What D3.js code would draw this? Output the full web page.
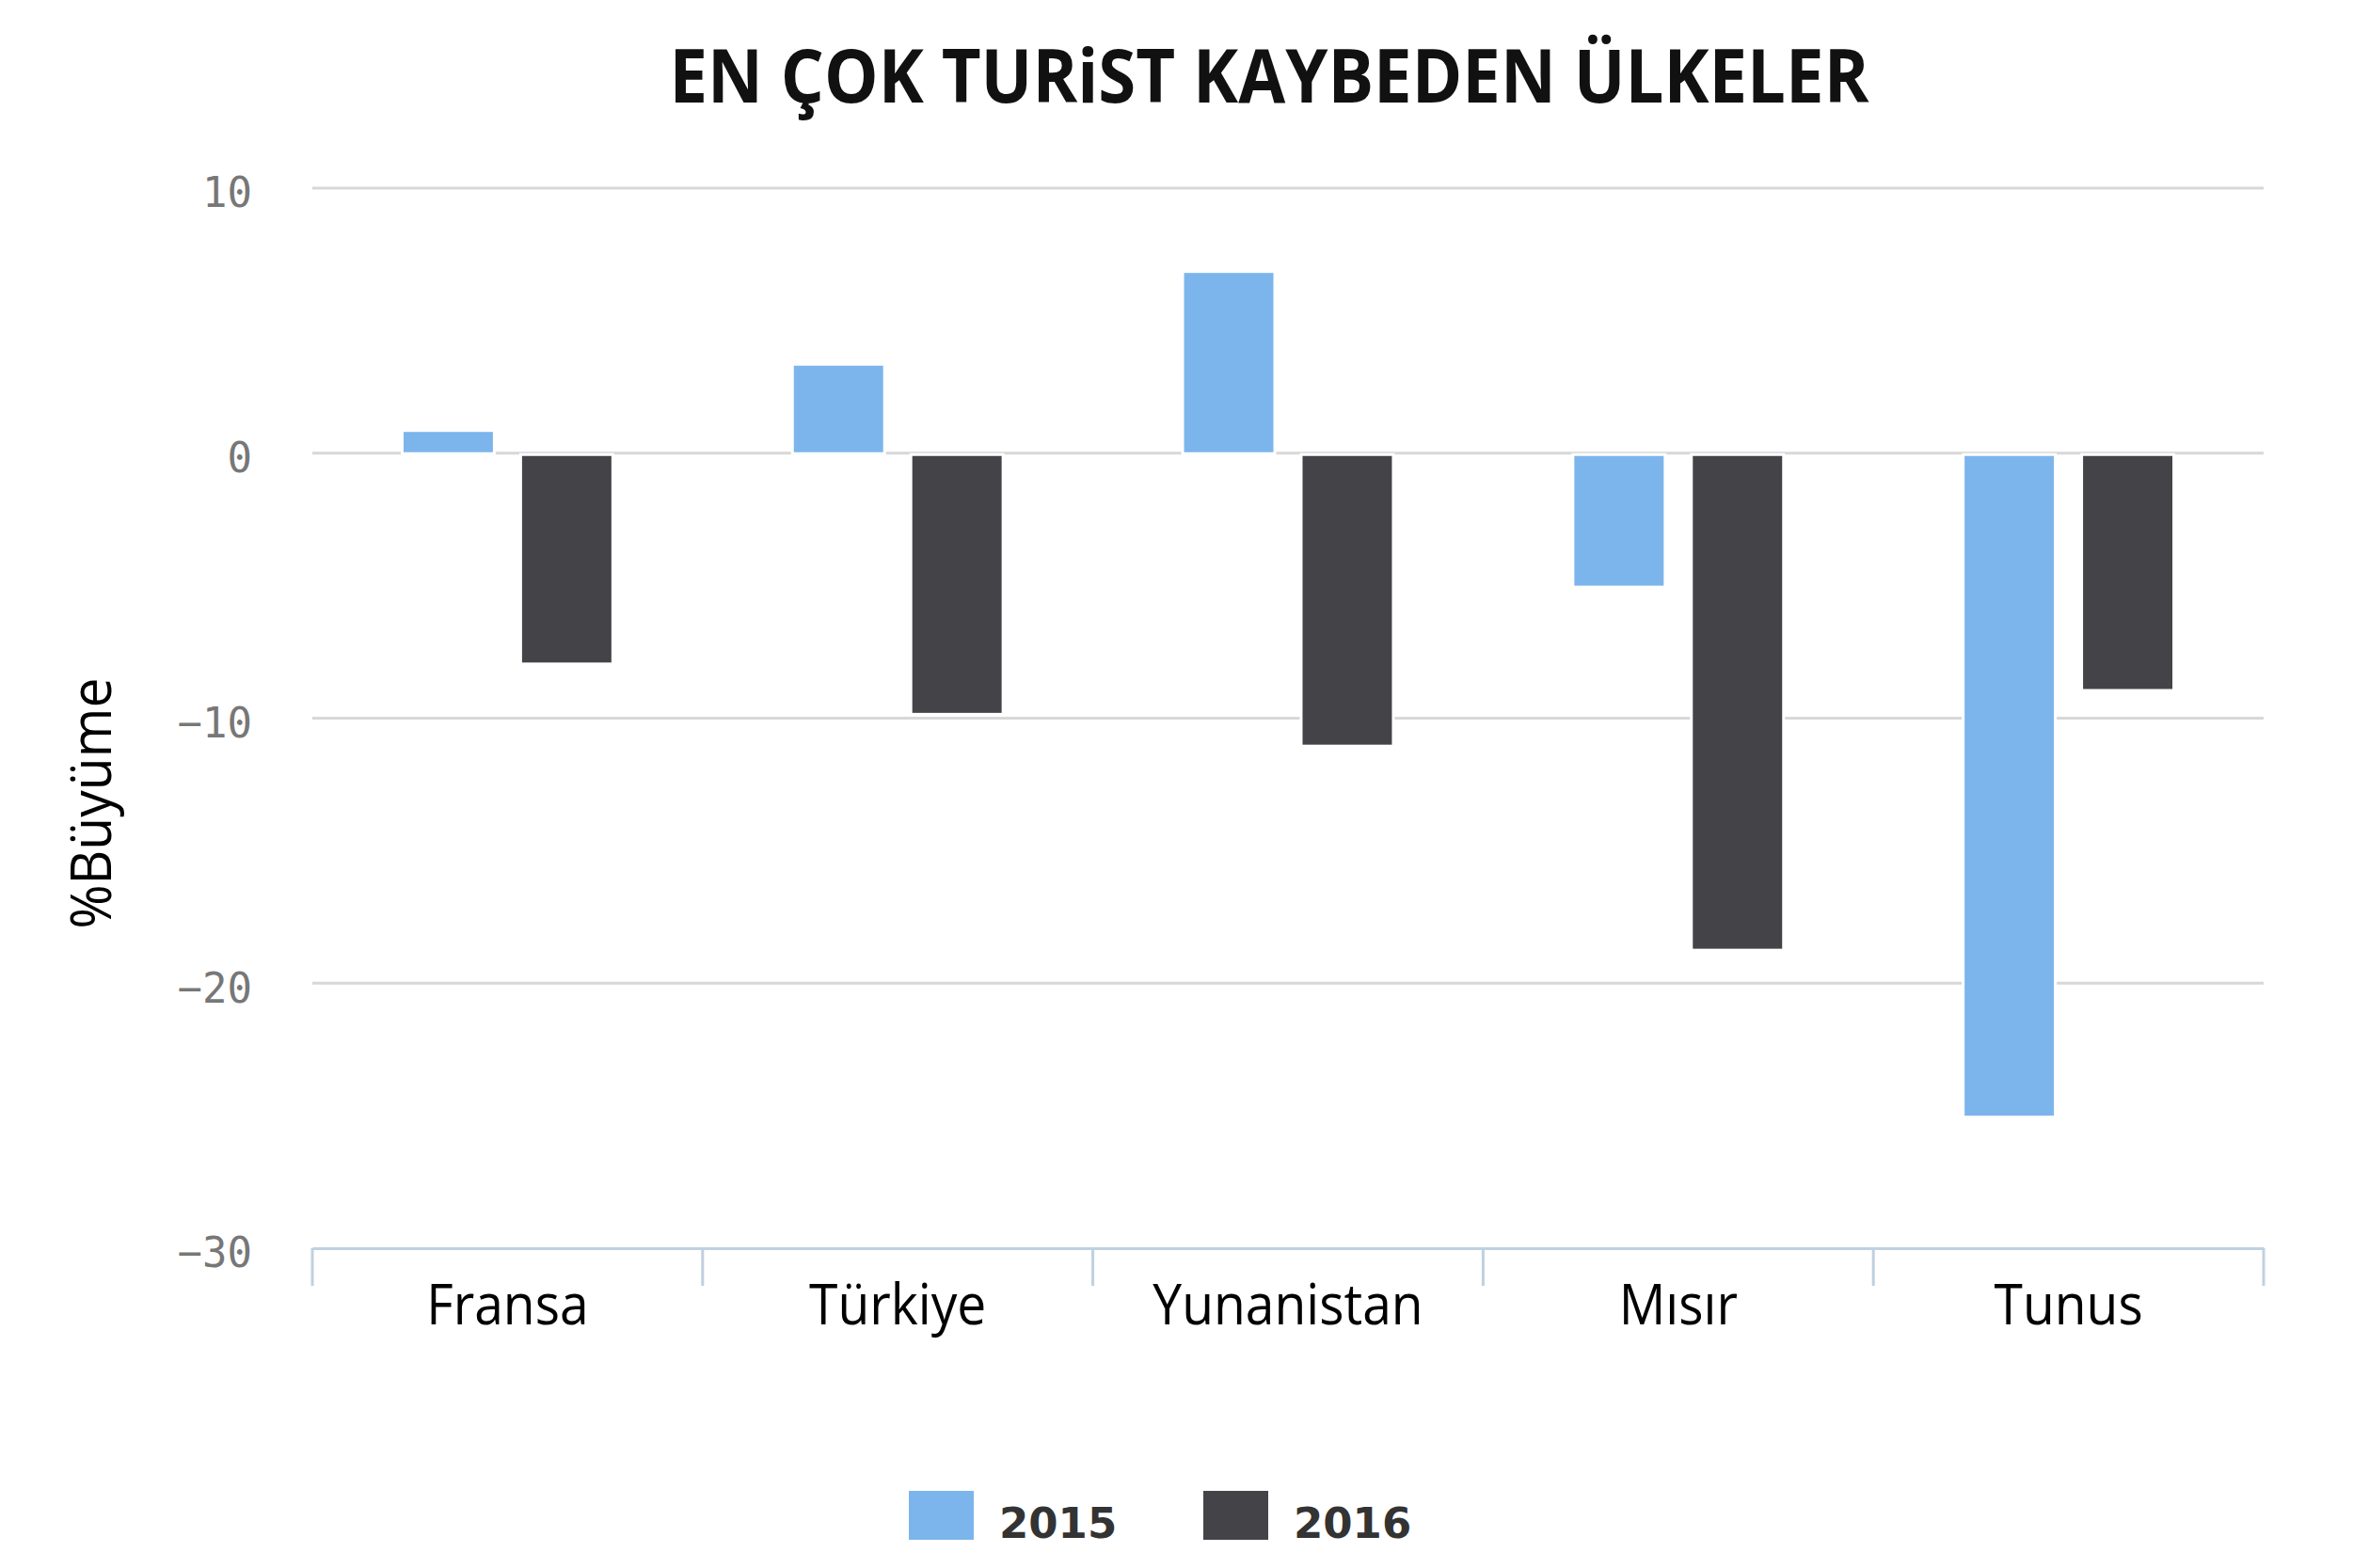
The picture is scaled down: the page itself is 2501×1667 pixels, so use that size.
<!DOCTYPE html>
<html lang="tr">
<head>
  <meta charset="UTF-8">
  <title>En Çok Turist Kaybeden Ülkeler</title>
  <style>
    body {
      margin: 0;
      background: #fff;
    }
    svg {
      display: block;
    }
    .title {
      font-family: "Open Sans", "Noto Sans", sans-serif;
      font-weight: 700;
      font-size: 78px;
      fill: #111;
    }
    .grid line {
      stroke: #d8d8d8;
      stroke-width: 3;
    }
    .y-axis text {
      font-family: "DejaVu Sans Mono", monospace;
      font-size: 44px;
      fill: #777;
    }
    .x-axis text {
      font-family: "Open Sans", "Noto Sans", sans-serif;
      font-weight: 400;
      font-size: 60px;
      fill: #000;
    }
    .x-axis .domain, .x-tick {
      stroke: #c0d0e0;
      stroke-width: 3;
    }
    .y-title {
      font-family: "Open Sans", "Noto Sans", sans-serif;
      font-weight: 400;
      font-size: 60px;
      fill: #000;
    }
    .legend text {
      font-family: "DejaVu Sans", sans-serif;
      font-weight: 700;
      font-size: 45px;
      fill: #333;
    }
  </style>
</head>
<body>
  <div id="chart"></div>

  <script src="https://d3js.org/d3.v7.min.js"></script>
  <script>
    // veriler
    const countries = ["Fransa", "Türkiye", "Yunanistan", "Mısır", "Tunus"];
    const years = ["2015", "2016"];
    const values2015 = [0.8, 3.3, 6.8, -5.0, -25.0];
    const values2016 = [-7.9, -9.8, -11.0, -18.7, -8.9];
    const yTicks = [10, 0, -10, -20, -30];
    const colors = ["#7cb5ec", "#434348"];
    const titleText = "EN ÇOK TURiST KAYBEDEN ÜLKELER";
    const yTitle = "%Büyüme";

    const width = 2501;
    const height = 1667;
    const margin = { top: 200, right: 95, bottom: 340, left: 332 };

    const svg = d3.select("#chart")
                  .append("svg")
                  .attr("width", width)
                  .attr("height", height);

    svg.append("rect")
       .attr("width", width)
       .attr("height", height)
       .attr("fill", "#fff");

    const x = d3.scaleBand()
                .domain(countries)
                .range([margin.left, width - margin.right])
                .padding(0);

    const x1 = d3.scaleBand()
                 .domain(years)
                 .range([0, x.bandwidth()])
                 .paddingInner(0.246)
                 .paddingOuter(0.77);

    const y = d3.scaleLinear()
                .domain([-30, 10])
                .range([height - margin.bottom, margin.top]);

    const color = d3.scaleOrdinal().domain(years).range(colors);

    // başlık
    svg.append("text")
       .attr("class", "title")
       .attr("x", 1349)
       .attr("y", 109)
       .attr("text-anchor", "middle")
       .attr("textLength", 1275)
       .attr("lengthAdjust", "spacingAndGlyphs")
       .text(titleText);

    // yatay ızgara
    svg.append("g")
       .attr("class", "grid")
       .selectAll("line")
       .data(yTicks.filter(d => d !== -30))
       .enter()
       .append("line")
       .attr("x1", margin.left)
       .attr("x2", width - margin.right)
       .attr("y1", d => y(d))
       .attr("y2", d => y(d));

    // y ekseni
    const yAxis = svg.append("g")
                     .attr("class", "y-axis")
                     .attr("transform", `translate(${margin.left},0)`)
                     .call(d3.axisLeft(y).tickValues(yTicks).tickSize(0).tickPadding(64));
    yAxis.select(".domain").remove();
    yAxis.selectAll("text").attr("dy", "0.45em");

    svg.append("text")
       .attr("class", "y-title")
       .attr("transform", `translate(118,854) rotate(-90) scale(0.95,1)`)
       .attr("text-anchor", "middle")
       .text(yTitle);

    // x ekseni
    const xAxis = svg.append("g")
                     .attr("class", "x-axis")
                     .attr("transform", `translate(0,${y(-30)})`)
                     .call(d3.axisBottom(x).tickSize(0).tickSizeOuter(0).tickPadding(38));
    xAxis.selectAll(".tick text").attr("transform", "scale(0.92,1)");

    const bounds = countries.map(c => x(c)).concat([x.range()[1]]);
    xAxis.selectAll(".x-tick")
         .data(bounds)
         .enter()
         .append("line")
         .attr("class", "x-tick")
         .attr("x1", d => d)
         .attr("x2", d => d)
         .attr("y1", 0)
         .attr("y2", 40);

    // çubuklar
    const rows = countries.map((c, i) => ({
      country: c,
      values: [
        { year: "2015", value: values2015[i] },
        { year: "2016", value: values2016[i] }
      ]
    }));

    const groups = svg.selectAll(".group")
                      .data(rows)
                      .enter()
                      .append("g")
                      .attr("class", "group")
                      .attr("transform", d => `translate(${x(d.country)},0)`);

    groups.selectAll("rect")
          .data(d => d.values)
          .enter()
          .append("rect")
          .attr("x", d => x1(d.year))
          .attr("width", x1.bandwidth())
          .attr("y", d => d.value >= 0 ? y(d.value) : y(0) + 3)
          .attr("height", d => d.value >= 0 ? y(0) - y(d.value) - 1 : y(d.value) - y(0) - 3)
          .attr("fill", d => color(d.year))
          .attr("stroke", "#fff")
          .attr("stroke-width", 6)
          .style("paint-order", "stroke");

    // lejant
    const legend = svg.append("g").attr("class", "legend");
    const items = legend.selectAll("g")
                        .data(years)
                        .enter()
                        .append("g")
                        .attr("transform", (d, i) => `translate(${966 + i * 313},1585)`);

    items.append("rect")
         .attr("width", 69)
         .attr("height", 52)
         .attr("fill", d => color(d));

    items.append("text")
         .attr("x", 96)
         .attr("y", 50)
         .text(d => d);
  </script>
</body>
</html>
